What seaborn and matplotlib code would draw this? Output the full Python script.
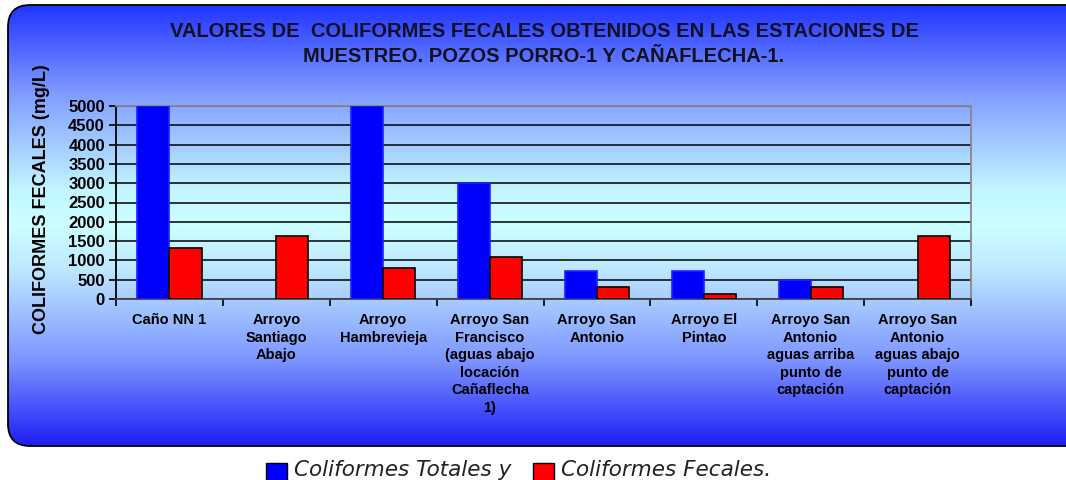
import numpy as np
import pandas as pd
import matplotlib
matplotlib.use("Agg")
import matplotlib.pyplot as plt
import seaborn as sns
from matplotlib.colors import LinearSegmentedColormap
from matplotlib.patches import FancyBboxPatch, Patch, Rectangle
from matplotlib.legend_handler import HandlerPatch

# Datos
estaciones = [
    "Caño NN 1",
    "Arroyo\nSantiago\nAbajo",
    "Arroyo\nHambrevieja",
    "Arroyo San\nFrancisco\n(aguas abajo\nlocación\nCañaflecha\n1)",
    "Arroyo San\nAntonio",
    "Arroyo El\nPintao",
    "Arroyo San\nAntonio\naguas arriba\npunto de\ncaptación",
    "Arroyo San\nAntonio\naguas abajo\npunto de\ncaptación",
]
totales = [5000, np.nan, 5000, 3000, 720, 720, 490, np.nan]
fecales = [1310, 1630, 800, 1085, 320, 120, 320, 1630]
series = ["Coliformes Totales", "Coliformes Fecales"]
colores = ["#0000ff", "#ff0000"]
y_ticks = list(range(0, 5001, 500))

df = pd.DataFrame({
    "estacion": estaciones * 2,
    "serie": [series[0]] * len(estaciones) + [series[1]] * len(estaciones),
    "valor": totales + fecales,
})

W, H = 1066, 480
fig = plt.figure(figsize=(W / 100, H / 100), dpi=100)

# Fondo con degradado dentro de un rectangulo redondeado
bg = fig.add_axes([0, 0, 1, 1], zorder=0)
bg.set_xlim(0, W)
bg.set_ylim(H, 0)
bg.axis("off")
cmap = LinearSegmentedColormap.from_list("fondo", [
    (0.0, "#2234ff"), (0.2, "#809cff"), (0.42, "#c2f6ff"), (0.5, "#ccffff"),
    (0.6, "#bde8ff"), (0.8, "#7f98ff"), (1.0, "#1e1ef6")])
grad = np.linspace(0, 1, 256).reshape(-1, 1)
frame = FancyBboxPatch((8, 5), 1080, 441, boxstyle="round,pad=0,rounding_size=22",
                       facecolor="none", edgecolor="black", linewidth=1.3, zorder=2)
im = bg.imshow(grad, extent=(8, 1088, 446, 5), aspect="auto", cmap=cmap, zorder=1)
bg.add_patch(frame)
im.set_clip_path(frame)

plt.rcParams["font.family"] = ["Liberation Sans", "DejaVu Sans"]

ax = fig.add_axes([116 / W, 1 - 299 / H, (971 - 116) / W, (299 - 106) / H], zorder=2)
ax.set_facecolor("none")

sns.barplot(data=df, x="estacion", y="valor", hue="serie", palette=colores,
            width=0.6, edgecolor="black", linewidth=1.2, errorbar=None,
            saturation=1, ax=ax, zorder=3)
for bar in ax.containers[0]:
    bar.set_edgecolor("#2020ff")
if ax.get_legend() is not None:
    ax.get_legend().remove()

ax.set_xlim(-0.5, len(estaciones) - 0.5)
ax.set_ylim(0, 5000)
ax.set_yticks(y_ticks)
ax.set_yticklabels([str(v) for v in y_ticks], fontsize=12, fontweight="bold")
ax.yaxis.grid(True, color="black", linewidth=1.1, zorder=0)
ax.set_axisbelow(True)
ax.set_xlabel("")
ax.set_ylabel("")

ax.set_xticks(range(len(estaciones)))
ax.set_xticklabels(estaciones, fontsize=10.5, fontweight="bold", linespacing=1.33)
ax.tick_params(axis="x", which="major", length=0, pad=10)
ax.set_xticks(np.arange(-0.5, len(estaciones)), minor=True)
ax.tick_params(axis="x", which="minor", length=5, width=1.2, color="black")
ax.tick_params(axis="y", length=5, width=1.2, color="black", pad=3)

ax.spines["top"].set_color("#888888")
ax.spines["right"].set_color("#888888")
ax.spines["left"].set_color("black")
ax.spines["bottom"].set_color("#444444")
for s in ax.spines.values():
    s.set_linewidth(1.3)

fig.text(544 / W, 1 - 44 / H,
         "VALORES DE  COLIFORMES FECALES OBTENIDOS EN LAS ESTACIONES DE\n"
         "MUESTREO. POZOS PORRO-1 Y CAÑAFLECHA-1.",
         ha="center", va="center", fontsize=14.5, fontweight="bold",
         color="#111122", linespacing=1.45)
fig.text(42 / W, 1 - 199 / H, "COLIFORMES FECALES (mg/L)", rotation=90,
         ha="center", va="center", fontsize=13, fontweight="bold")


# cuadros de la leyenda un poco mas bajos que el texto
class LowSquare(HandlerPatch):
    def create_artists(self, legend, orig_handle, xdescent, ydescent,
                       width, height, fontsize, trans):
        p = Rectangle((-xdescent, -ydescent - 3), width, height)
        self.update_prop(p, orig_handle, legend)
        p.set_transform(trans)
        return [p]


handles = [Patch(facecolor=c, edgecolor="black", linewidth=1) for c in colores]
leg = fig.legend(handles, ["Coliformes Totales y", "Coliformes Fecales."],
                 loc="lower center", bbox_to_anchor=(519 / W, -0.04), ncol=2,
                 frameon=False, handlelength=0.95, handleheight=0.95,
                 handletextpad=0.35, columnspacing=1.0, labelcolor="#222222",
                 handler_map={Patch: LowSquare()},
                 prop=dict(family="DejaVu Sans", style="italic", size=15.5))
leg.set_zorder(10)

fig.savefig("out.png", dpi=100)
